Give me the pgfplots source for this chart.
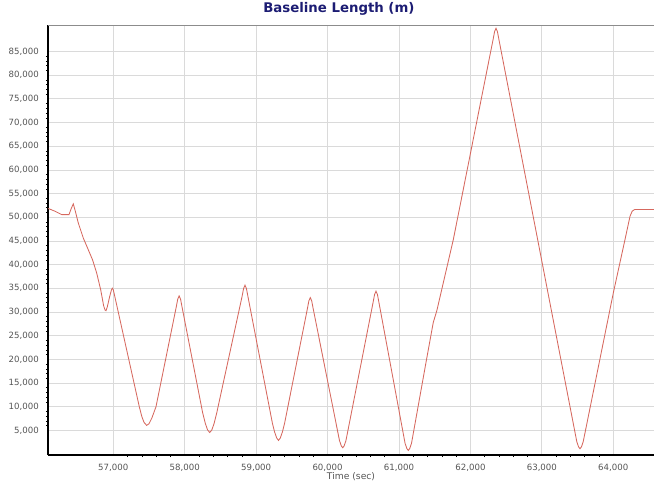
\documentclass[border=0pt]{standalone}
\usepackage{fontspec}
\setmainfont{DejaVu Sans}
\usepackage{pgfplots}
\pgfplotsset{compat=1.18}
\definecolor{titleblue}{RGB}{28,28,115}
\definecolor{curvec}{RGB}{214,104,94}
\definecolor{gridc}{RGB}{218,218,218}
\definecolor{tickc}{RGB}{85,85,85}
\definecolor{topc}{RGB}{140,140,140}
\begin{document}
\begin{tikzpicture}
\useasboundingbox (-48bp,-33bp) rectangle (606bp,455bp);
\begin{axis}[
  at={(0,0)}, anchor=south west,
  scale only axis, width=606bp, height=430bp,
  xmin=56086, xmax=64570, ymin=-200, ymax=90600,
  axis x line*=bottom, axis y line*=left,
  axis line style={line width=1.6bp, black},
  xtick={57000,58000,...,64000},
  ytick={5000,10000,...,85000},
  minor x tick num=4, minor y tick num=4,
  tick align=outside,
  major tick length=0pt, minor tick length=2bp,
  every tick/.style={black, line width=0.6bp},
  grid=major, major grid style={gridc, line width=0.8bp},
  scaled ticks=false,
  /pgf/number format/.cd, fixed, 1000 sep={,}, assume math mode=true,
  /pgfplots/.cd,
  ticklabel style={font=\fontsize{8.6bp}{10bp}\selectfont, text=tickc, inner sep=0pt},
  yticklabel style={anchor=east, xshift=-9bp},
  xticklabel style={anchor=north, yshift=-9bp},
  xlabel={Time (sec)},
  xlabel style={at={(axis description cs:0.5,0)}, anchor=center, yshift=-22bp,
    font=\fontsize{9.2bp}{11bp}\selectfont, text=tickc, inner sep=0pt},
  title={Baseline Length (m)},
  title style={at={(axis description cs:0.48,1)}, anchor=base, yshift=6.7bp,
    font=\fontsize{13.3bp}{15bp}\selectfont\bfseries, text=titleblue, inner sep=0pt},
  after end axis/.code={\draw[topc, line width=0.8bp] (rel axis cs:0,1) -- (rel axis cs:1,1);},
]
\addplot[curvec, line width=0.85bp] coordinates {
(56090,51850) (56180,51300) (56278,50560) (56380,50560) (56410,51800) (56440,52830)
(56470,51200) (56510,48800) (56580,45620) (56650,43140) (56710,41000) (56768,38200)
(56824,34670) (56865,31300) (56885,30400) (56898,30280) (56915,31000) (56950,33300)
(56975,34700) (56986,35030) (57000,34700) (57040,32000)
(57364,10000) (57400,7900) (57430,6700) (57467,6060) (57500,6400) (57540,7600) (57598,10000)
(57882,31100) (57902,32700) (57922,33400) (57942,32700) (57962,31100)
(58250,8800) (58290,6400) (58320,5100) (58350,4550) (58380,5100) (58410,6400) (58450,8800)
(58804,33350) (58824,34950) (58844,35650) (58864,34950) (58884,33350)
(59228,6480) (59258,4680) (59288,3380) (59313,2880) (59338,3380) (59368,4680) (59398,6480)
(59718,30740) (59738,32340) (59758,33040) (59778,32340) (59798,30740)
(60167,2830) (60192,1730) (60212,1330) (60232,1730) (60257,2830)
(60638,32090) (60658,33690) (60678,34390) (60698,33690) (60718,32090)
(61085,2260) (61110,1160) (61130,760) (61150,1160) (61175,2260)
(61364,18180) (61480,27800) (61530,30300) (61760,45260)
(62318,87600) (62338,89200) (62358,89900) (62378,89200) (62398,87600)
(63489,2620) (63514,1520) (63534,1120) (63554,1520) (63579,2620)
(63898,26400) (64000,34000) (64164,45300) (64234,50200) (64265,51300) (64300,51650) (64580,51650)
};
\end{axis}
\end{tikzpicture}
\end{document}
